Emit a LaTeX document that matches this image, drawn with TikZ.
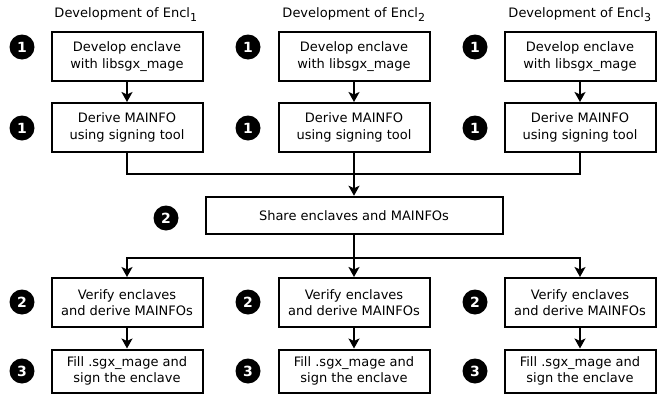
\documentclass[tikz,border=0pt]{standalone}
\usepackage{fontspec}
\setmainfont{DejaVu Sans}
\usetikzlibrary{arrows.meta}
\begin{document}
\begin{tikzpicture}[x=1pt,y=-1pt,
  stepbox/.style={draw=black,line width=2pt,fill=white,align=center,inner sep=0pt,
    font=\fontsize{13}{16.5}\selectfont},
  upbox/.style={stepbox,minimum width=151pt,minimum height=49pt},
  lowbox/.style={stepbox,minimum width=151pt},
  bubble/.style={circle,fill=black,text=white,inner sep=0pt,minimum size=25pt,
    font=\fontsize{14}{14}\selectfont\bfseries},
  title/.style={font=\fontsize{13}{15}\selectfont},
  conn/.style={line width=2pt},
  arr/.style={conn,-{Stealth[length=10pt,width=11pt,inset=2.5pt]}}]
\useasboundingbox (0,0) rectangle (657,402);
% titles
\node[title] (t1) at (126,15) {Development of Encl\textsubscript{\fontsize{11}{11}\selectfont 1}};
\node[title] (t2) at (354,15) {Development of Encl\textsubscript{\fontsize{11}{11}\selectfont 2}};
\node[title] (t3) at (580,15) {Development of Encl\textsubscript{\fontsize{11}{11}\selectfont 3}};
% upper boxes
\node[upbox] (d1) at (127,56.5) {Develop enclave\\with libsgx\_mage};
\node[upbox] (d2) at (354,56.5) {Develop enclave\\with libsgx\_mage};
\node[upbox] (d3) at (580,56.5) {Develop enclave\\with libsgx\_mage};
\node[upbox] (m1) at (127,127.5) {Derive MAINFO\\using signing tool};
\node[upbox] (m2) at (354,127.5) {Derive MAINFO\\using signing tool};
\node[upbox] (m3) at (580,127.5) {Derive MAINFO\\using signing tool};
% share box
\node[stepbox,minimum width=297pt,minimum height=37.5pt] (s) at (354,215.5) {Share enclaves and MAINFOs};
% lower boxes
\node[lowbox,minimum height=49pt] (v1) at (127,302.5) {Verify enclaves\\and derive MAINFOs};
\node[lowbox,minimum height=49pt] (v2) at (354,302.5) {Verify enclaves\\and derive MAINFOs};
\node[lowbox,minimum height=49pt] (v3) at (580,302.5) {Verify enclaves\\and derive MAINFOs};
\node[lowbox,minimum height=43pt] (f1) at (127,371) {Fill .sgx\_mage and\\sign the enclave};
\node[lowbox,minimum height=43pt] (f2) at (354,371) {Fill .sgx\_mage and\\sign the enclave};
\node[lowbox,minimum height=43pt] (f3) at (580,371) {Fill .sgx\_mage and\\sign the enclave};
% bubbles
\node[bubble] (b11) at (22,47) {1};
\node[bubble] (b12) at (248,47) {1};
\node[bubble] (b13) at (475,47) {1};
\node[bubble] (b21) at (22,128) {1};
\node[bubble] (b22) at (248,128) {1};
\node[bubble] (b23) at (475,128) {1};
\node[bubble] (bs) at (166,218) {2};
\node[bubble] (b31) at (22,302) {2};
\node[bubble] (b32) at (248,302) {2};
\node[bubble] (b33) at (475,302) {2};
\node[bubble] (b41) at (22,371) {3};
\node[bubble] (b42) at (248,371) {3};
\node[bubble] (b43) at (475,371) {3};
% connectors
\coordinate (top) at (354,174);
\coordinate (bot) at (354,258);
\draw[arr] (d1) -- (m1);
\draw[arr] (d2) -- (m2);
\draw[arr] (d3) -- (m3);
\draw[conn] (m1.south) |- (top);
\draw[conn] (m3.south) |- (top);
\draw[arr] (m2) -- (s);
\draw[conn] (s.south) -- (bot);
\draw[arr] (bot) -| (v1.north);
\draw[arr] (bot) -- (v2.north);
\draw[arr] (bot) -| (v3.north);
\draw[arr] (v1) -- (f1);
\draw[arr] (v2) -- (f2);
\draw[arr] (v3) -- (f3);
\end{tikzpicture}
\end{document}
